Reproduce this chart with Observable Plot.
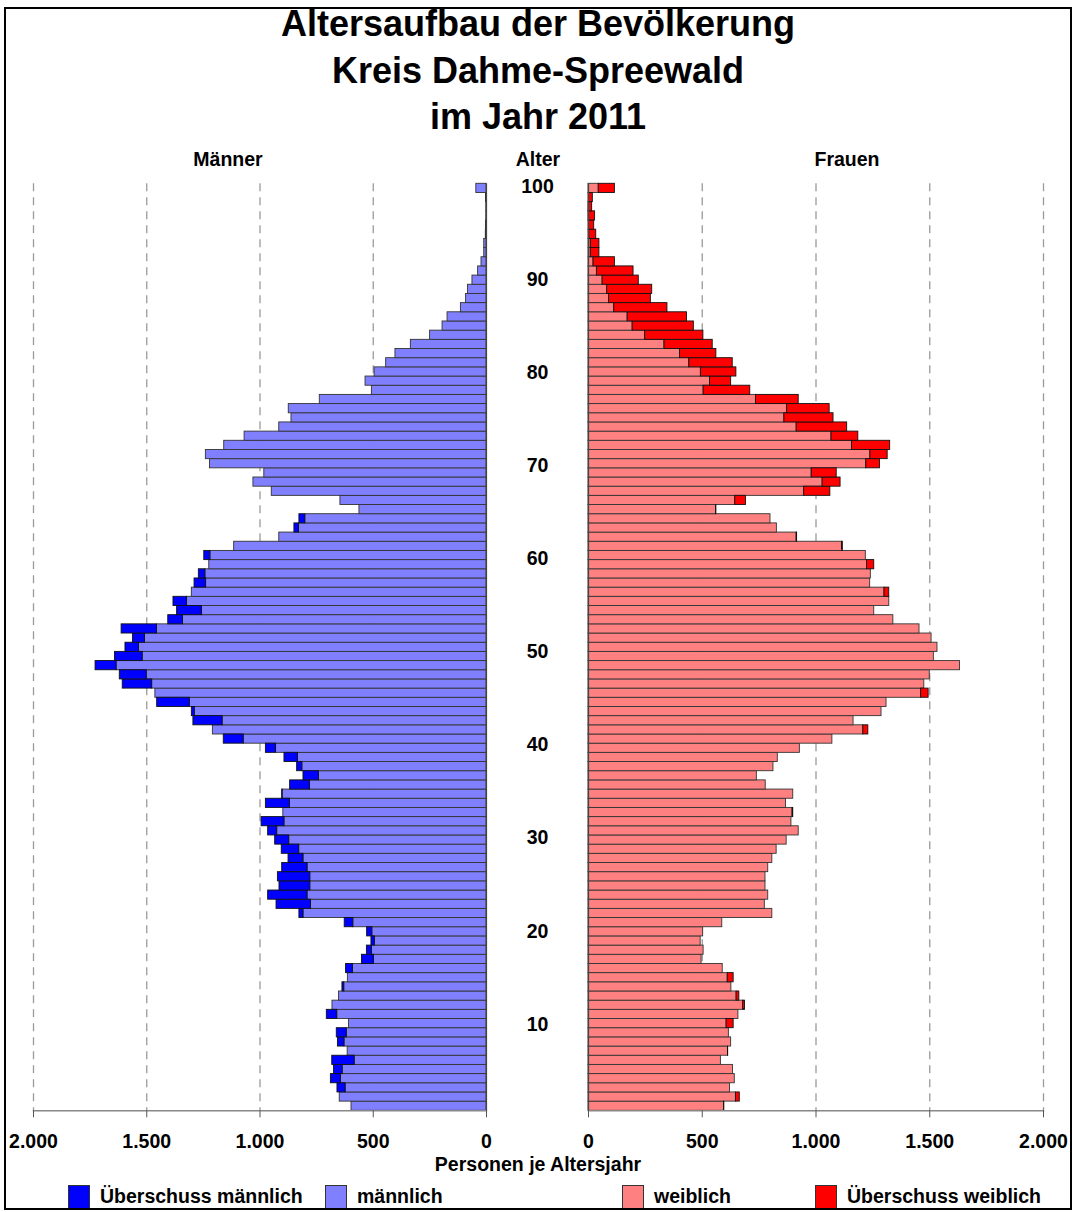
<!DOCTYPE html>
<html>
<head>
<meta charset="utf-8">
<script src="https://cdn.jsdelivr.net/npm/d3@7"></script>
<script src="https://cdn.jsdelivr.net/npm/@observablehq/plot@0.6"></script>
<style>
  body { margin: 0; background: #fff; font-family: "Liberation Sans", Arial, sans-serif; }
  #page { position: relative; width: 1077px; height: 1212px; overflow: hidden; background: #fff; }
  .frame { position: absolute; left: 4px; top: 7px; width: 1064px; height: 1199px; border: 2px solid #000; box-sizing: content-box; pointer-events: none; }
  .t { position: absolute; white-space: nowrap; font-weight: bold; line-height: 1; transform: translate(-50%, -50%); color: #000; }
  .title { font-size: 36px; }
  .lbl { font-size: 19.5px; }
  .swatch { position: absolute; width: 22px; height: 24px; border: 1px solid #333; box-sizing: border-box; }
  .leg { position: absolute; white-space: nowrap; font-weight: bold; font-size: 19.5px; line-height: 1; transform: translateY(-50%); }
  .plot { position: absolute; top: 170px; }
</style>
</head>
<body>
<div id="page"></div>
<script>
// ---- Data ----
const ages = d3.range(0, 101); // Alter 0 .. 100

const maennlich = [
  596, 648, 658, 687, 673, 681, 613, 656, 661, 607,
  705, 680, 651, 636, 612, 620, 550, 528, 508, 527,
  626, 826, 927, 964, 914, 921, 902, 874, 904, 933,
  964, 993, 897, 974, 902, 867, 808, 836, 892, 974,
  1160, 1208, 1294, 1301, 1454, 1462, 1606, 1619, 1726, 1640,
  1594, 1561, 1611, 1405, 1366, 1382, 1301, 1289, 1270, 1224,
  1246, 1114, 915, 848, 826, 561, 645, 948, 1029, 981,
  1221, 1239, 1158, 1068, 915, 861, 873, 736, 506, 534,
  494, 443, 402, 334, 249, 194, 172, 113, 90, 82,
  62, 37, 22, 10, 10, 3, 2, 1, 1, 2,
  45
];

const weiblich = [
  597, 665, 622, 643, 635, 582, 614, 627, 617, 638,
  659, 688, 663, 628, 638, 590, 497, 506, 493, 504,
  588, 808, 775, 790, 778, 778, 790, 808, 827, 871,
  924, 892, 900, 868, 900, 779, 740, 813, 832, 929,
  1072, 1230, 1165, 1288, 1310, 1495, 1476, 1500, 1633, 1518,
  1534, 1508, 1455, 1340, 1256, 1322, 1322, 1238, 1241, 1256,
  1219, 1118, 917, 828, 800, 562, 692, 1063, 1108, 1091,
  1281, 1315, 1326, 1186, 1137, 1077, 1060, 924, 711, 627,
  650, 634, 562, 546, 505, 463, 433, 347, 274, 280,
  221, 198, 116, 48, 48, 34, 25, 29, 16, 19,
  116
];

const xTicks = [0, 500, 1000, 1500, 2000];
const ageTicks = [10, 20, 30, 40, 50, 60, 70, 80, 90, 100];

const titleLines = ["Altersaufbau der Bevölkerung", "Kreis Dahme-Spreewald", "im Jahr 2011"];
const headerMaenner = "Männer";
const headerAlter = "Alter";
const headerFrauen = "Frauen";
const xLabel = "Personen je Altersjahr";

const legendLabels = ["Überschuss männlich", "männlich", "weiblich", "Überschuss weiblich"];
const legendColors = ["#0000FF", "#8080FF", "#FF8080", "#FF0000"];

// ---- Derived table ----
const rows = ages.map((a, i) => {
  const m = maennlich[i], f = weiblich[i];
  return { age: a, m, f, lo: Math.min(m, f) };
});

const de = d3.formatLocale({ decimal: ",", thousands: ".", grouping: [3], currency: ["", " €"] });
const fmt = de.format(",");

const font = '"Liberation Sans", Arial, sans-serif';
const ageDomain = ages.slice().reverse();
const H = 980, MT = 13.3, MB = 39.7;

const baseStyle = { fontFamily: font, fontSize: "19.5px", fontWeight: "bold", color: "#000", background: "transparent", overflow: "visible" };

function side(opts) {
  const { lightColor, darkColor, val, other, reverse, width, marginLeft, marginRight } = opts;
  return Plot.plot({
    width, height: H, marginTop: MT, marginBottom: MB, marginLeft, marginRight,
    style: baseStyle,
    x: { domain: [0, 2000], reverse, axis: null },
    y: { type: "band", domain: ageDomain, padding: 0, round: false, axis: null },
    marks: [
      Plot.ruleX([500, 1000, 1500, 2000], { stroke: "#9a9a9a", strokeWidth: 1.3, strokeDasharray: "8,6" }),
      Plot.barX(rows, { y: "age", x1: () => 0, x2: "lo", fill: lightColor, stroke: "#333", strokeWidth: 0.9 }),
      Plot.barX(rows.filter(d => d[val] > d[other]), { y: "age", x1: "lo", x2: val, fill: darkColor, stroke: "#111", strokeWidth: 0.9 }),
      Plot.ruleX([0], { stroke: "#444", strokeWidth: 1.2 }),
      Plot.frame({ anchor: "bottom", stroke: "#888", strokeWidth: 1.5 }),
      Plot.axisX({ ticks: xTicks, tickFormat: fmt, tickSize: 7, tickPadding: 16, stroke: "#555", fill: "#000", fontSize: 19.5, fontWeight: "bold" })
    ]
  });
}

const page = document.getElementById("page");

const left = side({ lightColor: "#8080FF", darkColor: "#0000FF", val: "m", other: "f", reverse: true, width: 500, marginLeft: 33, marginRight: 14 });
left.classList.add("plot");
left.style.left = "0px";
page.appendChild(left);

const right = side({ lightColor: "#FF8080", darkColor: "#FF0000", val: "f", other: "m", reverse: false, width: 577, marginLeft: 88, marginRight: 34 });
right.classList.add("plot");
right.style.left = "500px";
page.appendChild(right);

// Age labels column (own linear scale)
const mid = Plot.plot({
  width: 102, height: H, marginTop: 0, marginBottom: 0, marginLeft: 0, marginRight: 0,
  style: baseStyle,
  y: { domain: [0, 100], range: [947, 16], axis: null },
  marks: [
    Plot.text(ageTicks, { y: d => d, text: d => String(d), fontSize: 19.5, fontWeight: "bold", fill: "#000" })
  ]
});
mid.classList.add("plot");
mid.style.left = "486px";
page.appendChild(mid);

// Texts
function addText(txt, x, y, cls) {
  const el = document.createElement("div");
  el.className = "t " + cls;
  el.textContent = txt;
  el.style.left = x + "px";
  el.style.top = y + "px";
  page.appendChild(el);
}
const titleY = [23.5, 70.5, 116.5];
titleLines.forEach((s, i) => addText(s, 538, titleY[i], "title"));
addText(headerMaenner, 228, 160, "lbl");
addText(headerAlter, 538, 160, "lbl");
addText(headerFrauen, 847, 160, "lbl");
addText(xLabel, 538, 1165, "lbl");

// Legend
const legendX = [68, 325, 622, 815];
legendLabels.forEach((lab, i) => {
  const sw = document.createElement("div");
  sw.className = "swatch";
  sw.style.left = legendX[i] + "px";
  sw.style.top = "1185px";
  sw.style.background = legendColors[i];
  page.appendChild(sw);
  const t = document.createElement("div");
  t.className = "leg";
  t.textContent = lab;
  t.style.left = (legendX[i] + 32) + "px";
  t.style.top = "1197px";
  page.appendChild(t);
});

const fr = document.createElement("div");
fr.className = "frame";
page.appendChild(fr);
</script>
</body>
</html>
